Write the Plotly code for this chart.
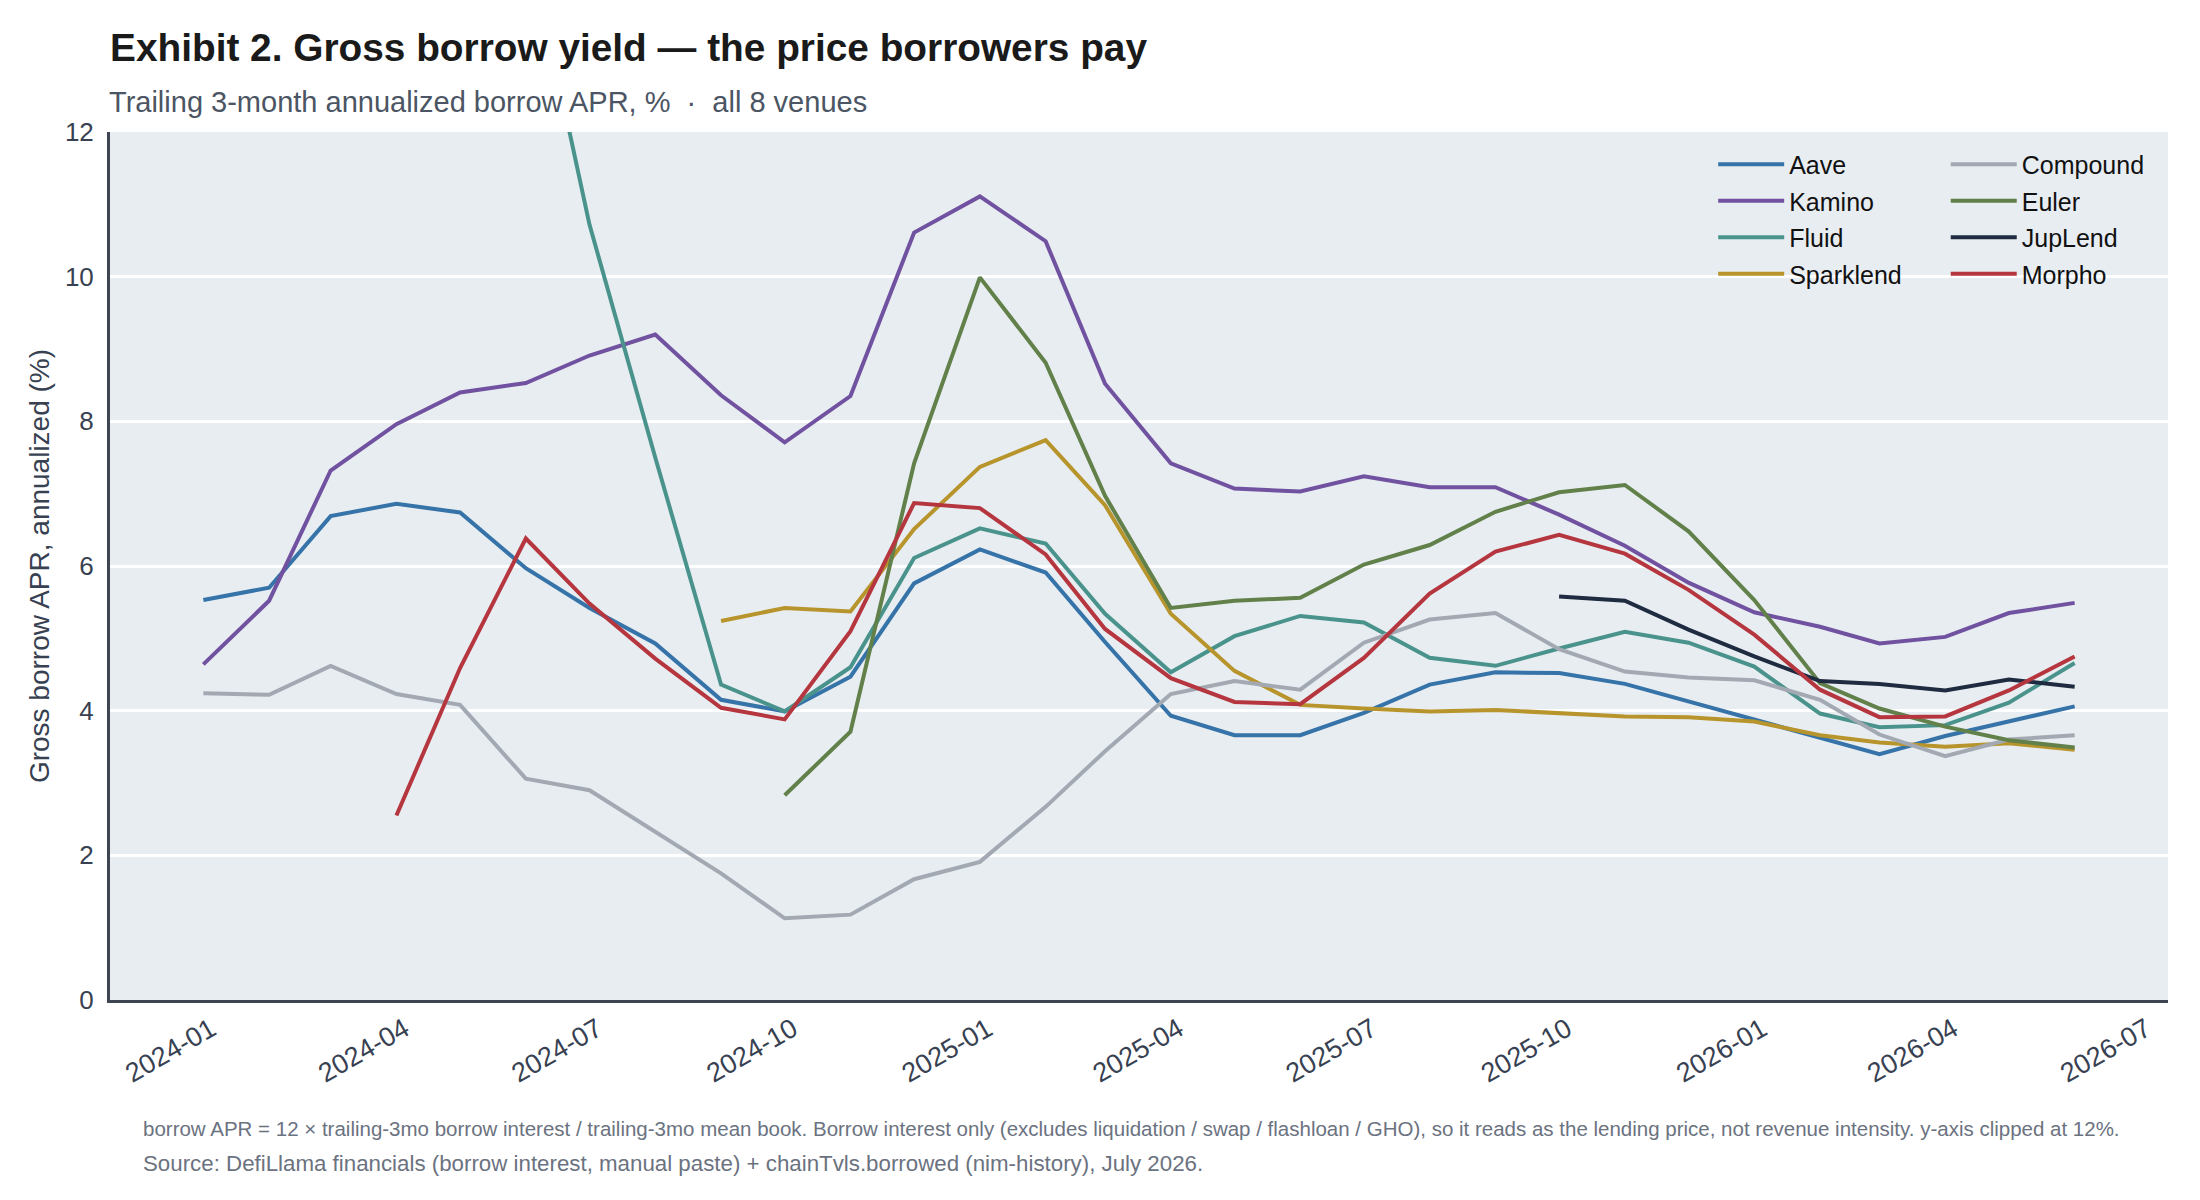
import pandas as pd
import plotly.graph_objects as go

months = [d.strftime("%Y-%m-%d") for d in pd.date_range("2024-01-01", periods=30, freq="MS")]
N = None

aave = [5.53, 5.70, 6.69, 6.86, 6.74, 5.97, 5.42, 4.93, 4.15, 3.99, 4.47, 5.76, 6.23, 5.91, 4.95,
        3.93, 3.66, 3.66, 3.97, 4.36, 4.53, 4.52, 4.37, 4.13, 3.88, 3.62, 3.40, 3.65, 3.85, 4.06]
kamino = [4.64, 5.52, 7.32, 7.96, 8.40, 8.53, 8.91, 9.20, 8.36, 7.71, 8.35, 10.61, 11.11, 10.49, 8.52,
          7.42, 7.07, 7.03, 7.24, 7.09, 7.09, 6.71, 6.28, 5.77, 5.36, 5.16, 4.93, 5.02, 5.35, 5.49]
fluid = [N, N, N, N, N, 14.8, 10.72, 7.50, 4.36, 3.99, 4.60, 6.11, 6.52, 6.31, 5.34,
         4.53, 5.03, 5.31, 5.22, 4.73, 4.62, 4.86, 5.09, 4.94, 4.61, 3.96, 3.77, 3.80, 4.11, 4.66]
sparklend = [N, N, N, N, N, N, N, N, 5.24, 5.42, 5.37, 6.51, 7.37, 7.74, 6.84,
             5.34, 4.55, 4.08, 4.03, 3.99, 4.01, 3.97, 3.92, 3.91, 3.85, 3.66, 3.56, 3.50, 3.55, 3.46]
compound = [4.24, 4.22, 4.62, 4.23, 4.08, 3.06, 2.90, 2.33, 1.75, 1.13, 1.18, 1.67, 1.91, 2.67, 3.44,
            4.23, 4.41, 4.29, 4.94, 5.26, 5.35, 4.85, 4.54, 4.46, 4.42, 4.15, 3.67, 3.37, 3.60, 3.66]
euler = [N, N, N, N, N, N, N, N, N, 2.83, 3.71, 7.42, 9.99, 8.81, 6.97,
         5.42, 5.52, 5.56, 6.02, 6.29, 6.75, 7.02, 7.12, 6.48, 5.53, 4.38, 4.03, 3.78, 3.59, 3.49]
juplend = [N] * 21 + [5.58, 5.52, 5.12, 4.75, 4.41, 4.37, 4.28, 4.43, 4.33]
morpho = [N, N, N, 2.55, 4.59, 6.38, 5.48, 4.72, 4.04, 3.88, 5.10, 6.87, 6.80, 6.16, 5.13,
          4.45, 4.12, 4.09, 4.73, 5.62, 6.20, 6.43, 6.17, 5.67, 5.05, 4.29, 3.91, 3.92, 4.28, 4.75]

series = [
    ("Aave", aave, "#3573a8", "legend"),
    ("Kamino", kamino, "#7152a0", "legend"),
    ("Fluid", fluid, "#4a938c", "legend"),
    ("Sparklend", sparklend, "#b8952c", "legend"),
    ("Compound", compound, "#a3a9b3", "legend2"),
    ("Euler", euler, "#62804a", "legend2"),
    ("JupLend", juplend, "#1f2b40", "legend2"),
    ("Morpho", morpho, "#b5363f", "legend2"),
]

FONT = "Liberation Sans, Arial, sans-serif"

fig = go.Figure()
for name, vals, color, leg in series:
    fig.add_trace(go.Scatter(
        x=months, y=vals, name=name, mode="lines",
        line=dict(color=color, width=4),
        connectgaps=False, legend=leg, legendgroup=name,
    ))

legend_common = dict(
    bgcolor="rgba(0,0,0,0)", borderwidth=0,
    font=dict(family=FONT, size=25, color="#111111"),
    itemwidth=66, tracegroupgap=1, yanchor="top", xanchor="left",
    orientation="v",
)

fig.update_layout(
    width=2200, height=1200, autosize=False,
    margin=dict(l=110, r=32, t=132, b=200),
    paper_bgcolor="white", plot_bgcolor="#e8edf1",
    font=dict(family=FONT, color="#374151"),
    title=dict(
        text="<b>Exhibit 2. Gross borrow yield — the price borrowers pay</b>",
        x=0, xref="paper", xanchor="left",
        y=1 - 47.7 / 1200, yref="container", yanchor="middle",
        font=dict(family=FONT, size=38.8, color="#1a1a1a"),
    ),
    showlegend=True,
    legend=dict(x=0.779, y=0.989, **legend_common),
    legend2=dict(x=0.892, y=0.989, **legend_common),
    xaxis=dict(
        type="date", range=["2023-11-18", "2026-07-15"],
        tick0="2024-01-01", dtick="M3", tickformat="%Y-%m", tickangle=-30,
        showgrid=False, zeroline=False,
        showline=True, linecolor="#3f4652", linewidth=3,
        tickfont=dict(family=FONT, size=27, color="#374151"),
        ticks="", ticklabelshift=8,
    ),
    yaxis=dict(
        range=[0, 12], dtick=2, tick0=0,
        showgrid=True, gridcolor="white", gridwidth=2.5,
        zeroline=False,
        showline=True, linecolor="#3f4652", linewidth=3,
        tickfont=dict(family=FONT, size=26, color="#374151"),
        ticklabelstandoff=8,
        title=dict(text="Gross borrow APR, annualized (%)",
                   font=dict(family=FONT, size=28, color="#374151"), standoff=8),
    ),
)

fig.add_annotation(
    text="Trailing 3-month annualized borrow APR, %  ·  all 8 venues",
    xref="paper", yref="paper", x=-3 / 2058, y=1 + 30 / 868, xanchor="left", yanchor="middle",
    showarrow=False, font=dict(family=FONT, size=29, color="#4b5563"),
)
fig.add_annotation(
    text="borrow APR = 12 × trailing-3mo borrow interest / trailing-3mo mean book. Borrow interest only "
         "(excludes liquidation / swap / flashloan / GHO), so it reads as the lending price, not revenue "
         "intensity. y-axis clipped at 12%.",
    xref="paper", yref="paper", x=31 / 2058, y=-128 / 868, xanchor="left", yanchor="middle",
    showarrow=False, font=dict(family=FONT, size=20.5, color="#6b7280"),
)
fig.add_annotation(
    text="Source: DefiLlama financials (borrow interest, manual paste) + chainTvls.borrowed (nim-history), July 2026.",
    xref="paper", yref="paper", x=31 / 2058, y=-163 / 868, xanchor="left", yanchor="middle",
    showarrow=False, font=dict(family=FONT, size=22.3, color="#6b7280"),
)

fig.write_html("out.html")
